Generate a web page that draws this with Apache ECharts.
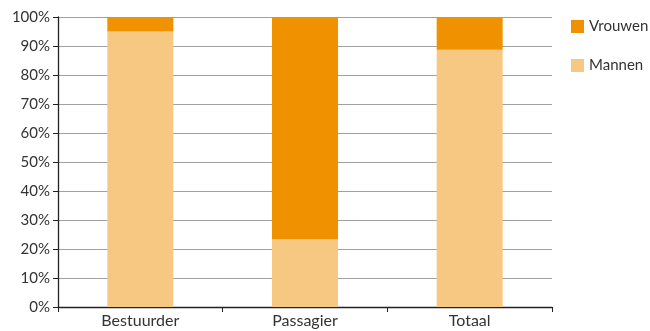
<!DOCTYPE html>
<html><head><meta charset="utf-8">
<script src="https://cdn.jsdelivr.net/npm/echarts@6/dist/echarts.min.js"></script>
<style>html,body{margin:0;padding:0;background:#fff}#c{width:650px;height:331px}</style>
</head><body><div id="c"></div>
<script>
var categories = ['Bestuurder', 'Passagier', 'Totaal'];
var mannen = [95, 23.4, 88.7];
var vrouwen = [5, 76.6, 11.3];
var yTicks = [0, 10, 20, 30, 40, 50, 60, 70, 80, 90, 100];

var font = 'Lato, "Open Sans", sans-serif';
var chart = echarts.init(document.getElementById('c'));
chart.setOption({
  animation: false,
  grid: { left: 58, right: 98, top: 17, bottom: 24 },
  legend: {
    orient: 'vertical', left: 566, top: 14, itemGap: 24,
    itemWidth: 13, itemHeight: 13, icon: 'rect',
    textStyle: { fontFamily: font, fontSize: 15, color: '#333' },
    data: ['Vrouwen', 'Mannen']
  },
  xAxis: {
    type: 'category', data: categories,
    axisLine: { lineStyle: { color: '#222', width: 1.3 } },
    axisTick: { show: true, length: 5, lineStyle: { color: '#222' } },
    axisLabel: { fontFamily: font, fontSize: 16, color: '#333', margin: 6 }
  },
  yAxis: {
    type: 'value', min: yTicks[0], max: yTicks[yTicks.length - 1], interval: 10,
    axisLine: { show: true, lineStyle: { color: '#222', width: 1.3 } },
    axisTick: { show: true, length: 5, lineStyle: { color: '#222' } },
    splitLine: { lineStyle: { color: '#a0a0a0', width: 1 } },
    axisLabel: { fontFamily: font, fontSize: 15, color: '#333', margin: 8, formatter: '{value}%' }
  },
  series: [
    { name: 'Mannen', type: 'bar', stack: 's', data: mannen, barWidth: 66, itemStyle: { color: '#F7C882' } },
    { name: 'Vrouwen', type: 'bar', stack: 's', data: vrouwen, barWidth: 66, itemStyle: { color: '#F09100' } }
  ]
});
</script></body></html>
